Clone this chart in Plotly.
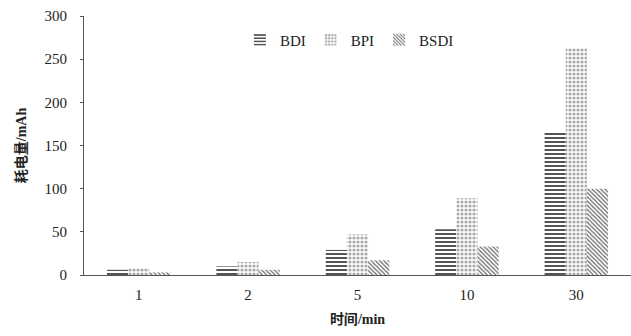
import plotly.graph_objects as go

categories = ["1", "2", "5", "10", "30"]
series_names = ["BDI", "BPI", "BSDI"]
bdi = [6, 10, 29, 53, 165]
bpi = [8, 15, 47, 89, 263]
bsdi = [3, 6, 17, 33, 100]
y_ticks = [0, 50, 100, 150, 200, 250, 300]

SERIF = "Liberation Serif"
CJK = "Noto Sans CJK SC"

styles = [
    dict(shape="-", fgcolor="#555555", size=4, solidity=0.5),
    dict(shape=".", fgcolor="#aaaaaa", size=4, solidity=0.5),
    dict(shape="\\", fgcolor="#666666", size=3, solidity=0.4),
]

fig = go.Figure()
for name, vals, st in zip(series_names, [bdi, bpi, bsdi], styles):
    fig.add_trace(go.Bar(
        x=categories, y=vals, name=name,
        marker=dict(color="white", line=dict(width=0),
                    pattern=dict(shape=st["shape"], fgcolor=st["fgcolor"], bgcolor="white",
                                 size=st["size"], solidity=st["solidity"], fillmode="replace")),
    ))

fig.update_layout(
    width=631, height=336,
    margin=dict(l=84, r=0, t=16, b=61),
    paper_bgcolor="white", plot_bgcolor="white",
    barmode="group", bargap=0.42, bargroupgap=0,
    font=dict(family=SERIF, size=14, color="#222222"),
    showlegend=True,
    legend=dict(orientation="h", x=0.285, y=0.907, xanchor="left", yanchor="middle",
                font=dict(family=SERIF, size=15, color="#222222"),
                bgcolor="rgba(0,0,0,0)", itemwidth=30, tracegroupgap=0),
    xaxis=dict(type="category", showline=True, linecolor="#555555", linewidth=1,
               ticks="", showgrid=False, tickfont=dict(family=SERIF, size=15),
               ticklabelstandoff=6,
               title=dict(text=f"<b><span style='font-family:{CJK}'>时间</span>/min</b>",
                          font=dict(family=SERIF, size=14), standoff=12)),
    yaxis=dict(range=[0, 300], tickvals=y_ticks, showline=True, linecolor="#555555", linewidth=1,
               ticks="outside", ticklen=3, tickcolor="#555555", showgrid=False,
               tickfont=dict(family=SERIF, size=15), ticklabelstandoff=10,
               title=dict(text=f"<b><span style='font-family:{CJK}'>耗电量</span>/mAh</b>",
                          font=dict(family=SERIF, size=14), standoff=14)),
)

fig.write_html("out.html")
